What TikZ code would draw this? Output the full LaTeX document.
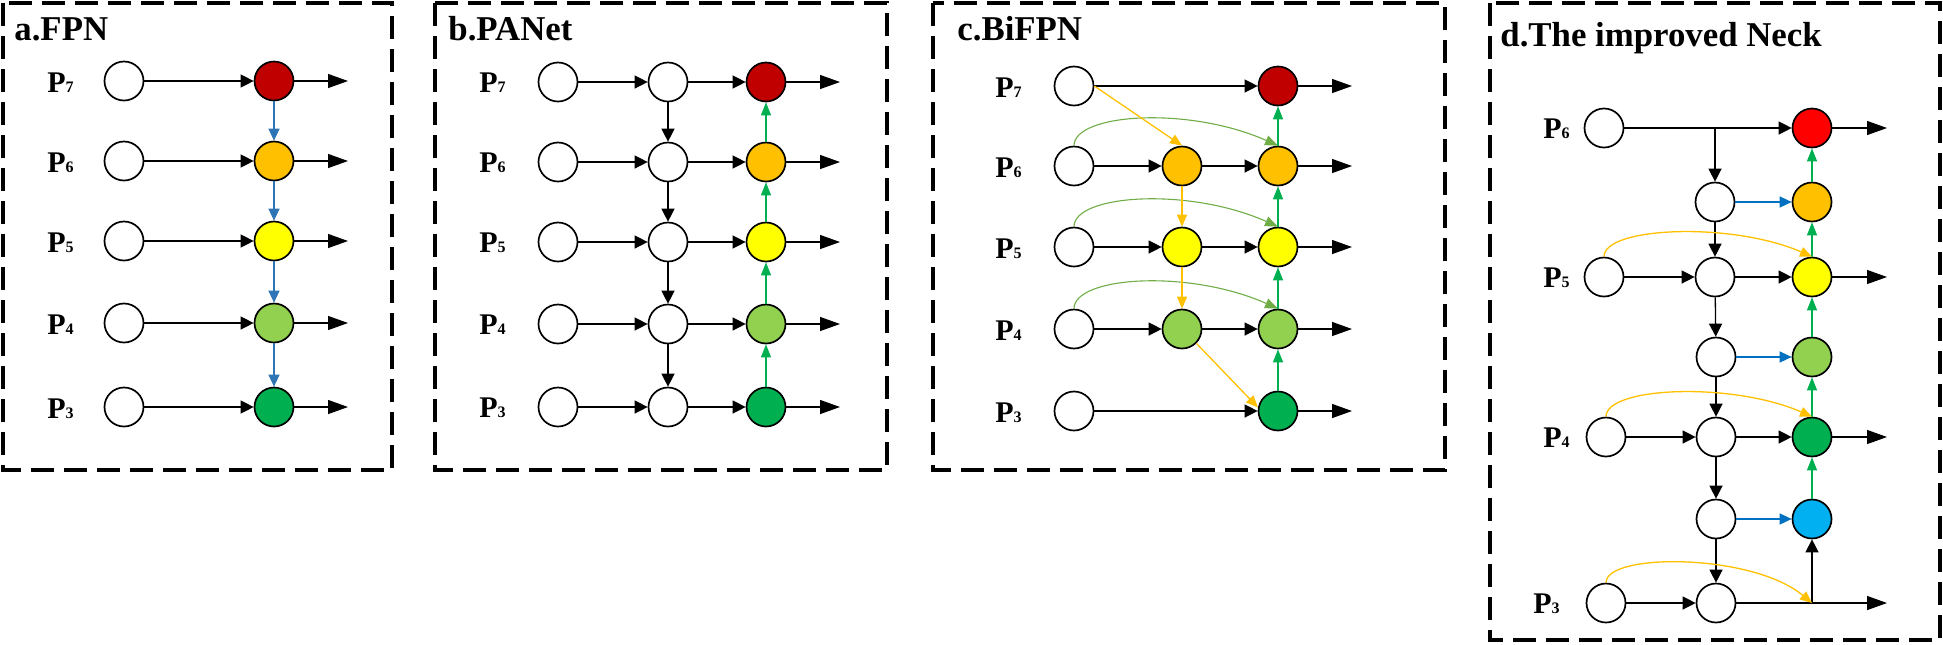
\documentclass[tikz,border=0pt]{standalone}
\usepackage{fontspec}
\setmainfont{Liberation Serif}
\usetikzlibrary{arrows.meta,calc}
\definecolor{cred}{HTML}{C00000}
\definecolor{cbright}{HTML}{FF0000}
\definecolor{corange}{HTML}{FFC000}
\definecolor{cyellow}{HTML}{FFFF00}
\definecolor{clgreen}{HTML}{92D050}
\definecolor{cdgreen}{HTML}{00B050}
\definecolor{cblue}{HTML}{00B0F0}
\definecolor{arrblue}{HTML}{2E75B6}
\definecolor{arrbluetwo}{HTML}{0070C0}
\definecolor{arrgreen}{HTML}{00B050}
\definecolor{arrolive}{HTML}{70AD47}
\definecolor{arrorange}{HTML}{FFC000}
\newcommand{\Plab}[1]{P{\fontsize{8}{9}\selectfont #1}}
\tikzset{
  feat/.style={circle, draw=black, line width=0.85pt, minimum size=19.5pt, inner sep=0pt, fill=white},
  panel/.style={draw=black, line width=1.6pt, dash pattern=on 11.5pt off 5pt},
  title/.style={anchor=base west, inner sep=0pt, font=\fontsize{17.4}{20}\selectfont\bfseries},
  plab/.style={anchor=base west, inner sep=0pt, font=\fontsize{15}{18}\selectfont\bfseries},
  blk/.style={draw=black, line width=0.65pt, -{Triangle[length=6.5pt,width=6.5pt]}},
  outa/.style={draw=black, line width=0.65pt, -{Triangle[length=10pt,width=7pt]}},
  bluea/.style={draw=arrblue, line width=0.7pt, -{Triangle[length=6pt,width=5.5pt]}},
  blueb/.style={draw=arrbluetwo, line width=0.7pt, -{Triangle[length=6pt,width=5.5pt]}},
  greena/.style={draw=arrgreen, line width=0.65pt, -{Triangle[length=6.5pt,width=5pt]}},
  orangea/.style={draw=arrorange, line width=0.65pt, -{Triangle[length=6pt,width=5pt]}},
  olivea/.style={draw=arrolive, line width=0.55pt, -{Triangle[length=6.5pt,width=5pt]}},
}
\begin{document}
\begin{tikzpicture}[x=0.5pt,y=-0.5pt]
\useasboundingbox (0,0) rectangle (1943,644);
% panels
\draw[panel] (3,3) rectangle (392,470);
\draw[panel] (435,3) rectangle (887,470);
\draw[panel] (933,3) rectangle (1445,470);
\draw[panel] (1490,3) rectangle (1940,640);
\node[title] (ta) at (14,40) {a.FPN};
\node[title] (tb) at (448,40) {b.PANet};
\node[title] (tc) at (957,40) {c.BiFPN};
\node[title] (td) at (1500,46) {d.The improved Neck};
% ---------- a. FPN
\foreach \n/\y/\c in {7/81/cred,6/161/corange,5/241/cyellow,4/323/clgreen,3/407/cdgreen}{
  \node[plab] (aP\n) at (47,\y+11) {\Plab{\n}};
  \node[feat] (ai\n) at (124,\y) {};
  \node[feat,fill=\c] (ao\n) at (274,\y) {};
  \coordinate (ae\n) at (348,\y);
  \draw[blk] (ai\n) -- (ao\n);
  \draw[outa] (ao\n) -- (ae\n);
}
\draw[bluea] (ao7) -- (ao6);
\draw[bluea] (ao6) -- (ao5);
\draw[bluea] (ao5) -- (ao4);
\draw[bluea] (ao4) -- (ao3);
% ---------- b. PANet
\foreach \n/\y/\c in {7/82/cred,6/162/corange,5/242/cyellow,4/324/clgreen,3/407/cdgreen}{
  \node[plab] (bP\n) at (479,\y+10) {\Plab{\n}};
  \node[feat] (bi\n) at (558,\y) {};
  \node[feat] (bm\n) at (668,\y) {};
  \node[feat,fill=\c] (bo\n) at (766,\y) {};
  \coordinate (be\n) at (840,\y);
  \draw[blk] (bi\n) -- (bm\n);
  \draw[blk] (bm\n) -- (bo\n);
  \draw[outa] (bo\n) -- (be\n);
}
\draw[blk] (bm7) -- (bm6);
\draw[blk] (bm6) -- (bm5);
\draw[blk] (bm5) -- (bm4);
\draw[blk] (bm4) -- (bm3);
\draw[greena] (bo3) -- (bo4);
\draw[greena] (bo4) -- (bo5);
\draw[greena] (bo5) -- (bo6);
\draw[greena] (bo6) -- (bo7);
% ---------- c. BiFPN
\foreach \n/\y/\c in {7/86/cred,6/166/corange,5/247/cyellow,4/329/clgreen,3/411/cdgreen}{
  \node[plab] (cP\n) at (995,\y+11) {\Plab{\n}};
  \node[feat] (ci\n) at (1074,\y) {};
  \node[feat,fill=\c] (co\n) at (1278,\y) {};
  \coordinate (ce\n) at (1352,\y);
  \draw[outa] (co\n) -- (ce\n);
}
\node[feat,fill=corange] (cm6) at (1182,166) {};
\node[feat,fill=cyellow] (cm5) at (1182,247) {};
\node[feat,fill=clgreen] (cm4) at (1182,329) {};
\draw[blk] (ci7) -- (co7);
\draw[blk] (ci3) -- (co3);
\foreach \n in {6,5,4}{
  \draw[blk] (ci\n) -- (cm\n);
  \draw[blk] (cm\n) -- (co\n);
  \draw[olivea] (ci\n.north) .. controls +(0,-32) and +(-90,-40) .. (co\n.north);
}
\draw[orangea] (ci7.east) -- (cm6.north);
\draw[orangea] (cm6) -- (cm5);
\draw[orangea] (cm5) -- (cm4);
\draw[orangea] (cm4.-45) -- (co3.170);
\draw[greena] (co3) -- (co4);
\draw[greena] (co4) -- (co5);
\draw[greena] (co5) -- (co6);
\draw[greena] (co6) -- (co7);
% ---------- d. improved neck
\node[plab] (dP6) at (1543,138) {\Plab{6}};
\node[plab] (dP5) at (1543,287) {\Plab{5}};
\node[plab] (dP4) at (1543,447) {\Plab{4}};
\node[plab] (dP3) at (1533,613) {\Plab{3}};
\node[feat] (di6) at (1604,128) {};
\node[feat] (di5) at (1604,277) {};
\node[feat] (di4) at (1606,437) {};
\node[feat] (di3) at (1606,603) {};
\coordinate (dbr) at (1715,128);
\node[feat] (dma) at (1715,202) {};
\node[feat] (dm5) at (1715,277) {};
\node[feat] (dmb) at (1716,357) {};
\node[feat] (dm4) at (1716,437) {};
\node[feat] (dmc) at (1716,519) {};
\node[feat] (dm3) at (1716,603) {};
\node[feat,fill=cbright] (dr) at (1812,128) {};
\node[feat,fill=corange] (dor) at (1812,202) {};
\node[feat,fill=cyellow] (dye) at (1812,277) {};
\node[feat,fill=clgreen] (dlg) at (1812,357) {};
\node[feat,fill=cdgreen] (ddg) at (1812,437) {};
\node[feat,fill=cblue] (dbl) at (1812,519) {};
\coordinate (dj) at (1812,603);
\coordinate (de6) at (1887,128);
\coordinate (de5) at (1887,277);
\coordinate (de4) at (1887,437);
\coordinate (de3) at (1887,603);
% horizontal
\draw[blk] (di6) -- (dr);
\draw[outa] (dr) -- (de6);
\draw[blk] (di5) -- (dm5);
\draw[blk] (dm5) -- (dye);
\draw[outa] (dye) -- (de5);
\draw[blk] (di4) -- (dm4);
\draw[blk] (dm4) -- (ddg);
\draw[outa] (ddg) -- (de4);
\draw[blk] (di3) -- (dm3);
\draw[outa] (dm3) -- (de3);
\draw[blueb] (dma) -- (dor);
\draw[blueb] (dmb) -- (dlg);
\draw[blueb] (dmc) -- (dbl);
% vertical
\draw[blk] (dbr) -- (dma);
\draw[blk] (dma) -- (dm5);
\draw[blk] (dm5) -- (dmb);
\draw[blk] (dmb) -- (dm4);
\draw[blk] (dm4) -- (dmc);
\draw[blk] (dmc) -- (dm3);
\draw[blk] (dj) -- (dbl);
\draw[greena] (dbl) -- (ddg);
\draw[greena] (ddg) -- (dlg);
\draw[greena] (dlg) -- (dye);
\draw[greena] (dye) -- (dor);
\draw[greena] (dor) -- (dr);
% orange arcs
\draw[orangea] (di5.north) .. controls +(0,-30) and +(-80,-35) .. (dye.north);
\draw[orangea] (di4.north) .. controls +(0,-30) and +(-80,-35) .. (ddg.north);
\draw[orangea] (di3.north) .. controls +(0,-30) and +(-60,-50) .. (dj);
\end{tikzpicture}
\end{document}
